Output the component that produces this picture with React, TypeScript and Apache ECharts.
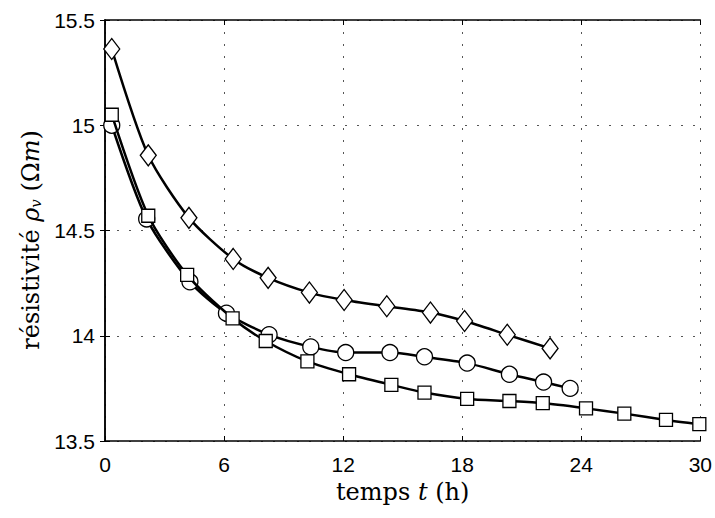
import React, { useEffect, useRef } from "react";
import * as echarts from "echarts";

// x = temps (h), y = résistivité (Ωm)
const diamondX = [0.34, 2.18, 4.23, 6.46, 8.22, 10.3, 12.05, 14.2, 16.4, 18.12, 20.27, 22.43];
const diamondY = [15.362, 14.857, 14.56, 14.365, 14.275, 14.205, 14.17, 14.14, 14.11, 14.07, 14.005, 13.94];

const circleX = [0.34, 2.1, 4.28, 6.12, 8.27, 10.37, 12.13, 14.36, 16.1, 18.25, 20.38, 22.1, 23.44];
const circleY = [15.0, 14.555, 14.256, 14.107, 14.005, 13.947, 13.92, 13.92, 13.9, 13.87, 13.817, 13.78, 13.75];

const squareX = [0.34, 2.18, 4.14, 6.43, 8.1, 10.2, 12.3, 14.43, 16.1, 18.25, 20.38, 22.06, 24.24, 26.17, 28.27, 29.95];
const squareY = [15.05, 14.57, 14.289, 14.083, 13.975, 13.878, 13.817, 13.767, 13.73, 13.7, 13.69, 13.68, 13.655, 13.63, 13.6, 13.58];

const xTicks = [0, 6, 12, 18, 24, 30];
const yTicks = [13.5, 14, 14.5, 15, 15.5];

const zip = (xs: number[], ys: number[]) => xs.map((x, i) => [x, ys[i]]);

export default function App() {
  const ref = useRef<HTMLDivElement>(null);
  useEffect(() => {
    if (!ref.current) return;
    const chart = echarts.init(ref.current, null, { renderer: "svg" });
    const serif = "'DejaVu Serif', 'Liberation Serif', serif";
    const sans = "'Liberation Sans', Arial, sans-serif";
    const black = "#000";
    const xMin = xTicks[0];
    const xMax = xTicks[xTicks.length - 1];
    const yMin = yTicks[0];
    const yMax = yTicks[yTicks.length - 1];
    const seriesBase = {
      type: "line" as const,
      smooth: 0.25,
      lineStyle: { color: black, width: 2.5 },
      itemStyle: { color: "#fff", borderColor: black, borderWidth: 1.3 },
      showAllSymbol: true,
      silent: true,
      xAxisIndex: 0,
      yAxisIndex: 0,
    };
    chart.setOption({
      animation: false,
      backgroundColor: "#fff",
      grid: { left: 105, right: 14, top: 20, bottom: 77, show: false },
      graphic: [
        {
          type: "text",
          x: 31,
          y: 240,
          rotation: Math.PI / 2,
          silent: true,
          style: {
            text: "résistivité {i|ρ}{s|v} (Ω{i|m})",
            fontFamily: serif,
            fontSize: 24,
            fill: black,
            align: "center",
            verticalAlign: "middle",
            rich: {
              i: { fontFamily: serif, fontSize: 24, fontStyle: "italic", fill: black },
              s: { fontFamily: serif, fontSize: 15, fontStyle: "italic", fill: black, verticalAlign: "bottom", padding: [10, 0, 0, 0] },
            },
          },
        },
      ],
      xAxis: [
        {
          type: "value",
          min: xMin,
          max: xMax,
          interval: 6,
          position: "bottom",
          name: "temps {i|t} (h)",
          nameLocation: "middle",
          nameGap: 26,
          nameTextStyle: {
            fontFamily: serif,
            fontSize: 24,
            color: black,
            rich: { i: { fontFamily: serif, fontSize: 24, fontStyle: "italic", color: black } },
          },
          axisLine: { show: true, lineStyle: { color: black, width: 1.5 } },
          axisTick: { show: true, inside: true, length: 5, lineStyle: { color: black, width: 1 } },
          axisLabel: {
            show: true,
            margin: 13,
            fontFamily: sans,
            fontSize: 21,
            color: black,
            showMinLabel: true,
            showMaxLabel: true,
          },
          splitLine: { show: true, lineStyle: { color: "#555", width: 1, type: [2, 10] } },
        },
        {
          type: "value",
          min: xMin,
          max: xMax,
          interval: 6,
          position: "top",
          axisLine: { show: true, lineStyle: { color: black, width: 1.5 } },
          axisTick: { show: true, inside: true, length: 5, lineStyle: { color: black, width: 1 } },
          axisLabel: { show: false },
          splitLine: { show: false },
        },
      ],
      yAxis: [
        {
          type: "value",
          min: yMin,
          max: yMax,
          interval: 0.5,
          position: "left",
          axisLine: { show: true, lineStyle: { color: black, width: 1.5 } },
          axisTick: { show: true, inside: true, length: 5, lineStyle: { color: black, width: 1 } },
          axisLabel: {
            show: true,
            margin: 10,
            fontFamily: sans,
            fontSize: 21,
            color: black,
            showMinLabel: true,
            showMaxLabel: true,
            formatter: (v: number) => String(v),
          },
          splitLine: { show: true, lineStyle: { color: "#555", width: 1, type: [2, 10] } },
        },
        {
          type: "value",
          min: yMin,
          max: yMax,
          interval: 0.5,
          position: "right",
          axisLine: { show: true, lineStyle: { color: black, width: 1.5 } },
          axisTick: { show: true, inside: true, length: 5, lineStyle: { color: black, width: 1 } },
          axisLabel: { show: false },
          splitLine: { show: false },
        },
      ],
      series: [
        { ...seriesBase, name: "circle", symbol: "circle", symbolSize: 16, data: zip(circleX, circleY), z: 2 },
        { ...seriesBase, name: "square", symbol: "rect", symbolSize: 13, data: zip(squareX, squareY), z: 3 },
        { ...seriesBase, name: "diamond", symbol: "diamond", symbolSize: [16, 21], data: zip(diamondX, diamondY), z: 4 },
      ],
    });
    return () => chart.dispose();
  }, []);
  return (
    <div
      ref={ref}
      style={{ position: "fixed", left: 0, top: 0, width: 715, height: 518, background: "#fff" }}
    />
  );
}
